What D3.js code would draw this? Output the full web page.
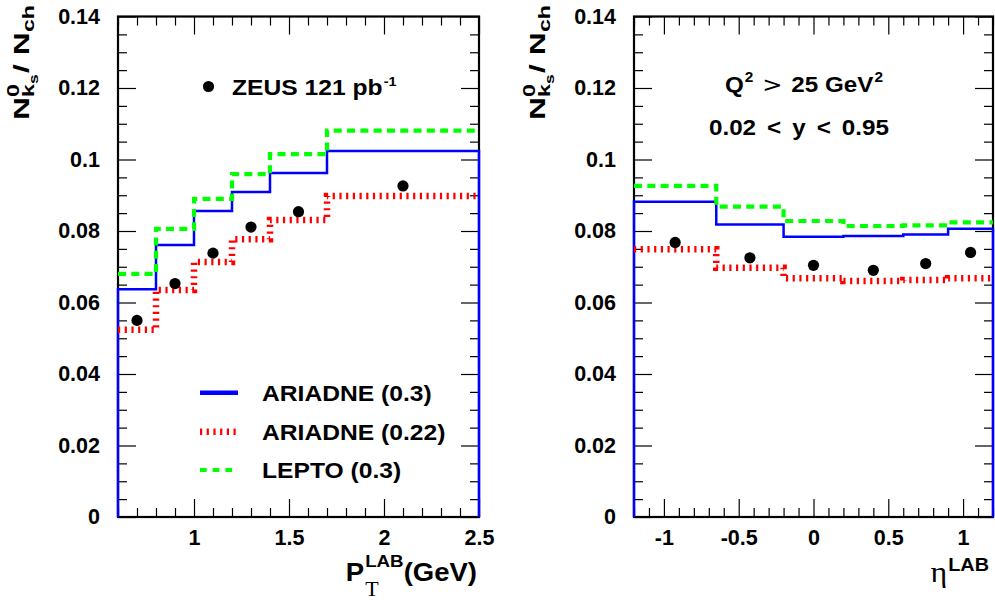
<!DOCTYPE html>
<html>
<head>
<meta charset="utf-8">
<script src="https://cdn.jsdelivr.net/npm/d3@7"></script>
<style>
  body { margin: 0; background: #fff; }
  svg { display: block; }
  .tick text { font-family: "Liberation Sans", Arial, sans-serif; font-weight: bold; fill: #000; }
</style>
</head>
<body>
<svg id="chart" width="995" height="603"></svg>
<script>
// ---- K0s / charged multiplicity ratio vs pT (lab frame) ----
const ptEdges      = [0.6, 0.8, 1.0, 1.2, 1.4, 1.7, 2.5];
const ptCenters    = [0.7, 0.9, 1.1, 1.3, 1.55, 2.1];
const ptZeus       = [0.0550, 0.0653, 0.0738, 0.0811, 0.0854, 0.0926];
const ptAriadne03  = [0.0637, 0.0761, 0.0856, 0.0909, 0.0962, 0.1024];
const ptAriadne022 = [0.0524, 0.0635, 0.0713, 0.0777, 0.0831, 0.0898];
const ptLepto03    = [0.0680, 0.0806, 0.0890, 0.0959, 0.1015, 0.1081];

// ---- same ratio vs pseudorapidity (lab frame) ----
const etaEdges      = [-1.2, -0.65, -0.2, 0.2, 0.6, 0.9, 1.2];
const etaCenters    = [-0.925, -0.425, 0.0, 0.4, 0.75, 1.05];
const etaZeus       = [0.0768, 0.0725, 0.0704, 0.0690, 0.0709, 0.0740];
const etaAriadne03  = [0.0882, 0.0818, 0.0784, 0.0786, 0.0790, 0.0806];
const etaAriadne022 = [0.0749, 0.0697, 0.0668, 0.0660, 0.0663, 0.0668];
const etaLepto03    = [0.0926, 0.0868, 0.0828, 0.0814, 0.0816, 0.0824];

// ---- axes ----
const yDomain      = [0, 0.14];
const yTicks       = [0, 0.02, 0.04, 0.06, 0.08, 0.1, 0.12, 0.14];
const yTickLabels  = ["0", "0.02", "0.04", "0.06", "0.08", "0.1", "0.12", "0.14"];
const ptDomain     = [0.6, 2.5];
const ptTicks      = [1, 1.5, 2, 2.5];
const ptTickLabels = ["1", "1.5", "2", "2.5"];
const etaDomain     = [-1.2, 1.2];
const etaTicks      = [-1, -0.5, 0, 0.5, 1];
const etaTickLabels = ["-1", "-0.5", "0", "0.5", "1"];

const legendLabels = ["ARIADNE (0.3)", "ARIADNE (0.22)", "LEPTO (0.3)"];

const SANS = '"Liberation Sans", Arial, Helvetica, sans-serif';
const SERIF = '"Liberation Serif", "Times New Roman", serif';

const styles = {
  a03:  { color: "#0000ff", width: 2.5, dash: null },
  a022: { color: "#ff0000", width: 6.5, dash: "2.2,4.5" },
  lep:  { color: "#00ff00", width: 4.2, dash: "8,5.3" }
};

const svg = d3.select("#chart");

// lays out a run of text pieces (with sub/superscripts) along a baseline;
// opt.len, when given, stretches the run along its baseline to that length
function rich(parent, opt, pieces) {
  const g = parent.append("g");
  const inner = g.append("g");
  let cx = 0, markX = 0, maxX = 0;
  pieces.forEach(p => {
    if (p.at === "mark") cx = markX;
    if (p.at === "max") cx = maxX;
    cx += p.gap || 0;
    const t = inner.append("text")
      .attr("x", cx).attr("y", p.dy || 0)
      .style("font-family", p.family || SANS)
      .style("font-weight", p.weight || "bold")
      .style("font-size", p.size + "px")
      .attr("fill", "#000")
      .text(p.t);
    const w = t.node().getComputedTextLength();
    if (p.mark) markX = cx + w;
    cx += w;
    maxX = Math.max(maxX, cx);
  });
  const sx = opt.len ? opt.len / maxX : (opt.sx || 1);
  g.attr("transform", `translate(${opt.x},${opt.y}) rotate(${opt.rotate || 0}) scale(${sx},1)`);
  const anchor = opt.anchor || "start";
  if (anchor === "end") inner.attr("transform", `translate(${-maxX},0)`);
  if (anchor === "middle") inner.attr("transform", `translate(${-maxX / 2},0)`);
  return g;
}

function range(a, b, step) {
  const out = [];
  for (let v = a; v <= b + 1e-9; v += step) out.push(+v.toFixed(6));
  return out;
}

function panel(cfg) {
  const { x0, x1, y0, y1 } = cfg.box;
  const x = d3.scaleLinear().domain(cfg.xDomain).range([x0, x1]);
  const y = d3.scaleLinear().domain(yDomain).range([y0, y1]);
  const g = svg.append("g");

  const minorX = range(cfg.xDomain[0], cfg.xDomain[1], 0.1).filter(v => !cfg.xTicks.some(t => Math.abs(t - v) < 1e-6));
  const minorY = range(0, 0.14, 0.005).filter(v => !yTicks.some(t => Math.abs(t - v) < 1e-6));

  // major / minor ticks on all four sides, pointing inwards
  const axes = [
    [d3.axisBottom(x).tickValues(cfg.xTicks).tickSize(-18).tickPadding(13)
      .tickFormat((d, i) => cfg.xTickLabels[i]), `translate(0,${y0})`, true],
    [d3.axisBottom(x).tickValues(minorX).tickSize(-9).tickFormat(""), `translate(0,${y0})`],
    [d3.axisTop(x).tickValues(cfg.xTicks).tickSize(-18).tickFormat(""), `translate(0,${y1})`],
    [d3.axisTop(x).tickValues(minorX).tickSize(-9).tickFormat(""), `translate(0,${y1})`],
    [d3.axisLeft(y).tickValues(yTicks).tickSize(-18).tickPadding(18)
      .tickFormat((d, i) => yTickLabels[i]), `translate(${x0},0)`, true],
    [d3.axisLeft(y).tickValues(minorY).tickSize(-9).tickFormat(""), `translate(${x0},0)`],
    [d3.axisRight(y).tickValues(yTicks).tickSize(-18).tickFormat(""), `translate(${x1},0)`],
    [d3.axisRight(y).tickValues(minorY).tickSize(-9).tickFormat(""), `translate(${x1},0)`]
  ];
  axes.forEach(([ax, tr, labelled]) => {
    const a = g.append("g").attr("transform", tr).call(ax);
    a.select(".domain").remove();
    a.selectAll(".tick line").attr("stroke", "#000").attr("stroke-width", 1.2);
    if (labelled) a.selectAll(".tick text").style("font-size", "21.5px");
  });

  // frame
  g.append("rect").attr("x", x0).attr("y", y1).attr("width", x1 - x0).attr("height", y0 - y1)
    .attr("fill", "none").attr("stroke", "#000").attr("stroke-width", 2.2);

  // step histograms
  function stepPath(edges, vals, toZero) {
    const pts = [];
    if (toZero) pts.push([x(edges[0]), y(0)]);
    vals.forEach((v, i) => { pts.push([x(edges[i]), y(v)]); pts.push([x(edges[i + 1]), y(v)]); });
    if (toZero) pts.push([x(edges[edges.length - 1]), y(0)]);
    return d3.line()(pts);
  }
  const series = [
    [cfg.a03, styles.a03, true],
    [cfg.a022, styles.a022, false],
    [cfg.lep, styles.lep, false]
  ];
  series.forEach(([vals, st, toZero]) => {
    g.append("path").attr("d", stepPath(cfg.edges, vals, toZero))
      .attr("fill", "none").attr("stroke", st.color).attr("stroke-width", st.width)
      .attr("stroke-dasharray", st.dash).attr("stroke-linejoin", "miter").attr("stroke-linecap", "butt");
  });

  // data points
  g.selectAll("circle.pt").data(cfg.centers.map((c, i) => [c, cfg.zeus[i]])).join("circle")
    .attr("class", "pt").attr("cx", d => x(d[0])).attr("cy", d => y(d[1])).attr("r", 5.6).attr("fill", "#000");

  // y-axis title: N_{K_s^0} / N_ch
  rich(svg, { x: x0 - 89, y: 120, rotate: -90, len: 115 }, [
    { t: "N", size: 22, mark: true },
    { t: "k", size: 16, dy: 5 },
    { t: "s", size: 12, dy: 9 },
    { t: "0", size: 16, dy: -10, at: "mark" },
    { t: " / N", size: 22, at: "max", gap: 1 },
    { t: "ch", size: 16, dy: 5 }
  ]);

  return { x, y, g };
}

// ---------- left panel: pT ----------
panel({
  box: { x0: 118, x1: 479, y0: 517, y1: 16.5 },
  xDomain: ptDomain, xTicks: ptTicks, xTickLabels: ptTickLabels,
  edges: ptEdges, centers: ptCenters, zeus: ptZeus,
  a03: ptAriadne03, a022: ptAriadne022, lep: ptLepto03
});

// ---------- right panel: eta ----------
panel({
  box: { x0: 634, x1: 993, y0: 517, y1: 16.5 },
  xDomain: etaDomain, xTicks: etaTicks, xTickLabels: etaTickLabels,
  edges: etaEdges, centers: etaCenters, zeus: etaZeus,
  a03: etaAriadne03, a022: etaAriadne022, lep: etaLepto03
});

// data label
svg.append("circle").attr("cx", 208.5).attr("cy", 86.5).attr("r", 5.6).attr("fill", "#000");
rich(svg, { x: 232, y: 95, sx: 1.12 }, [
  { t: "ZEUS 121 pb", size: 22 },
  { t: "-1", size: 13, dy: -9, gap: 1 }
]);

// legend
const legendY = [392.7, 431.7, 470];
const legendStyles = [
  { color: "#0000ff", width: 4.5, dash: null },
  styles.a022,
  { color: "#00ff00", width: 4.2, dash: "6.7,6" }
];
legendLabels.forEach((lab, i) => {
  const st = legendStyles[i];
  svg.append("line").attr("x1", 200).attr("x2", 238).attr("y1", legendY[i]).attr("y2", legendY[i])
    .attr("stroke", st.color).attr("stroke-width", st.width).attr("stroke-dasharray", st.dash);
  rich(svg, { x: 262, y: legendY[i] + 8, sx: 1.12 }, [{ t: lab, size: 22 }]);
});

// kinematic cuts
rich(svg, { x: 804, y: 92, sx: 1.1, anchor: "middle" }, [
  { t: "Q", size: 22 },
  { t: "2", size: 14, dy: -10, gap: 1 },
  { t: ">", size: 22, weight: "normal", family: '"DejaVu Sans", sans-serif', gap: 8 },
  { t: "25 GeV", size: 22, gap: 8 },
  { t: "2", size: 14, dy: -10, gap: 1 }
]);
rich(svg, { x: 799, y: 135, sx: 1.1, anchor: "middle" }, [
  { t: "0.02", size: 22 },
  { t: "<", size: 22, gap: 10 },
  { t: "y", size: 22, gap: 10 },
  { t: "<", size: 22, gap: 10 },
  { t: "0.95", size: 22, gap: 10 }
]);

// x-axis titles
rich(svg, { x: 477, y: 581, sx: 1.1, anchor: "end" }, [
  { t: "P", size: 25, mark: true },
  { t: "LAB", size: 17, dy: -14, gap: 1 },
  { t: "T", size: 20, weight: "normal", family: SERIF, dy: 15, at: "mark", gap: 1 },
  { t: "(GeV)", size: 25, at: "max" }
]);
rich(svg, { x: 989, y: 582, sx: 1.1, anchor: "end" }, [
  { t: "η", size: 29, weight: "normal", family: SERIF },
  { t: "LAB", size: 18, dy: -11, gap: 1 }
]);
</script>
</body>
</html>
